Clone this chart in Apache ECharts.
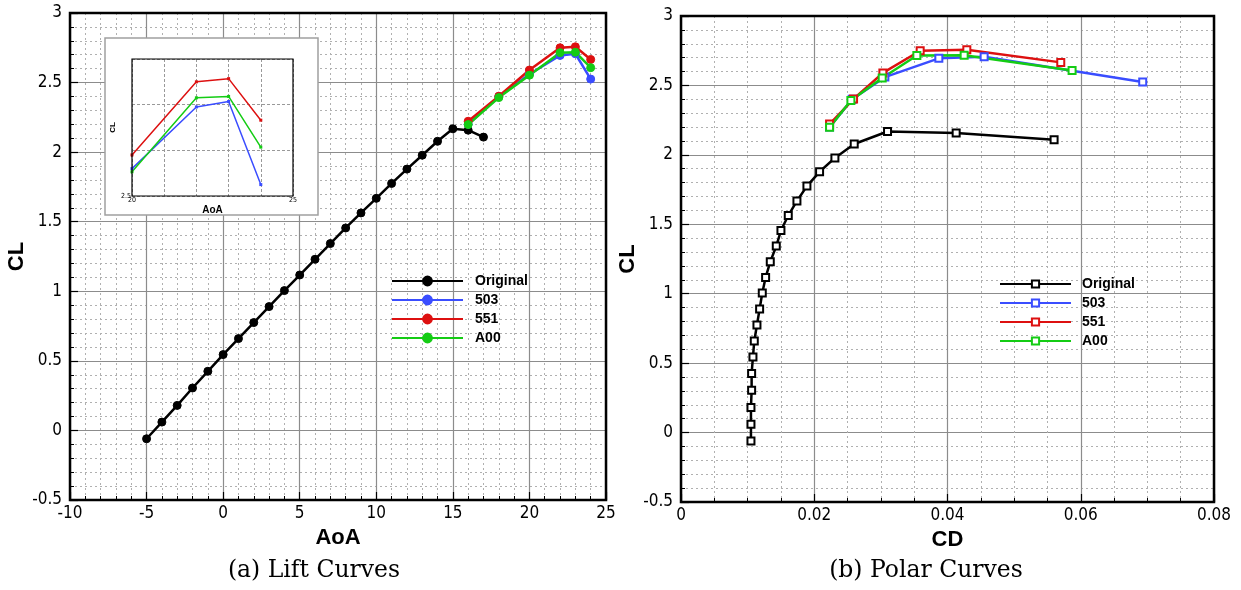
<!DOCTYPE html>
<html>
<head>
<meta charset="utf-8">
<script src="https://cdn.jsdelivr.net/npm/echarts@6/dist/echarts.min.js"></script>
<style>
html,body{margin:0;padding:0;background:#fff;}
#c{width:1241px;height:590px;}
</style>
</head>
<body>
<div id="c"></div>
<script>
// ---- data ----
const aoaOriginal = [-5,-4,-3,-2,-1,0,1,2,3,4,5,6,7,8,9,10,11,12,13,14,15,16,17];
const clOriginal = [-0.06,0.06,0.18,0.305,0.425,0.545,0.66,0.775,0.89,1.005,1.117,1.23,1.343,1.455,1.563,1.668,1.775,1.878,1.978,2.078,2.168,2.158,2.108];
const cdOriginal = [0.0105,0.0105,0.0105,0.0106,0.0106,0.0108,0.0110,0.0114,0.0118,0.0122,0.0127,0.0134,0.0143,0.0150,0.0161,0.0174,0.0189,0.0208,0.0231,0.0260,0.0310,0.0413,0.0560];
const aoaMod = [16,18,20,22,23,24];
const cl503 = [2.20,2.40,2.56,2.695,2.707,2.525];
const cl551 = [2.222,2.402,2.59,2.75,2.757,2.666];
const clA00 = [2.198,2.392,2.553,2.715,2.718,2.607];
const cd503 = [0.0223,0.0257,0.0306,0.0387,0.0455,0.0693];
const cd551 = [0.0223,0.0259,0.0303,0.0359,0.0429,0.0570];
const cdA00 = [0.0223,0.0255,0.0302,0.0354,0.0425,0.0587];
const seriesNames = ['Original','503','551','A00'];
const leftXTicks = {min:-10,max:25,interval:5};
const leftYTicks = {min:-0.5,max:3,interval:0.5};
const rightXTicks = {min:0,max:0.08,interval:0.02};
const insetX = {min:20,max:25,interval:1};
const insetY = {min:2.5,max:2.8,interval:0.1};
const captions = ['(a) Lift Curves','(b) Polar Curves'];

// ---- layout / style ----
const L = {left:70, top:13, width:536, height:487};
const R = {left:681, top:16, width:533, height:486};
const I = {left:132, top:59, width:161, height:137};
const IB = {x:105, y:38, width:213, height:177};
const colors = {Original:'#000000','503':'#3a4dff','551':'#dd1010','A00':'#14cc14'};
const tickFont = "'Liberation Sans Narrow','DejaVu Sans Condensed','Liberation Sans',Arial,sans-serif";
const boldFont = "'Liberation Sans',Arial,sans-serif";
const capFont = "'DejaVu Serif','Liberation Serif',serif";

function zip(a,b){return a.map((v,i)=>[v,b[i]]);}

function mainAxis(gridIndex, t, name, nameGap, isY, minorN){
  return {
    type:'value', gridIndex:gridIndex, min:t.min, max:t.max, interval:t.interval,
    name:name, nameLocation:'middle', nameGap:nameGap,
    nameTextStyle:{fontFamily:boldFont, fontWeight:'bold', fontSize:22, color:'#000'},
    axisLine:{show:true, onZero:false, lineStyle:{color:'#000', width:2}},
    axisTick:{show:true, inside:true, length:8, lineStyle:{color:'#000', width:1.2}},
    minorTick:{show:true, splitNumber:minorN, length:4, lineStyle:{color:'#000', width:1}},
    axisLabel:{show:true, fontFamily:tickFont, fontSize:17, color:'#000', margin:isY?8:5,
      showMinLabel:true, showMaxLabel:true},
    splitLine:{show:true, lineStyle:{color:'#8c8c8c', width:1.2}},
    minorSplitLine:{show:true, lineStyle:{color:'#b0b0b0', width:1, type:[2,3]}}
  };
}

const leftLine = (n, x, y) => ({
  name:n, type:'line', xAxisIndex:0, yAxisIndex:0, data:zip(x,y),
  symbol:'circle', symbolSize:8, z:3,
  lineStyle:{color:colors[n], width:2.5},
  itemStyle:{color:colors[n], borderColor:colors[n], borderWidth:1}
});
const rightLine = (n, x, y) => ({
  name:n+' ', type:'line', xAxisIndex:1, yAxisIndex:1, data:zip(x,y),
  symbol:'emptyRect', symbolSize:7, z:3,
  lineStyle:{color:colors[n], width:2.5},
  itemStyle:{color:colors[n], borderColor:colors[n], borderWidth:1}
});
const insetLine = (n, x, y) => ({
  name:'inset'+n, type:'line', xAxisIndex:2, yAxisIndex:2, data:zip(x,y),
  symbol:'rect', symbolSize:3, z:8, clip:true,
  lineStyle:{color:colors[n], width:1.5},
  itemStyle:{color:colors[n]}
});

const option = {
  animation:false,
  backgroundColor:'#fff',
  grid:[
    {left:L.left, top:L.top, width:L.width, height:L.height, containLabel:false},
    {left:R.left, top:R.top, width:R.width, height:R.height, containLabel:false},
    {left:I.left, top:I.top, width:I.width, height:I.height, containLabel:false, z:6}
  ],
  xAxis:[
    mainAxis(0, leftXTicks, 'AoA', 26, false, 5),
    mainAxis(1, rightXTicks, 'CD', 24, false, 4),
    {type:'value', gridIndex:2, min:insetX.min, max:insetX.max, interval:insetX.interval, z:7,
     name:'AoA', nameLocation:'middle', nameGap:9,
     nameTextStyle:{fontFamily:boldFont, fontWeight:'bold', fontSize:10, color:'#000'},
     axisLine:{show:false}, axisTick:{show:false},
     axisLabel:{fontSize:7, fontFamily:tickFont, color:'#000', margin:1,
       formatter:v => (v===insetX.min||v===insetX.max)?String(v):''},
     splitLine:{show:true, lineStyle:{color:'#999', width:1, type:[3,2]}}}
  ],
  yAxis:[
    mainAxis(0, leftYTicks, 'CL', 42, true, 5),
    mainAxis(1, leftYTicks, 'CL', 40, true, 5),
    {type:'value', gridIndex:2, min:insetY.min, max:insetY.max, interval:insetY.interval, z:7,
     name:'CL', nameLocation:'middle', nameGap:12,
     nameTextStyle:{fontFamily:boldFont, fontWeight:'bold', fontSize:8, color:'#000'},
     axisLine:{show:false}, axisTick:{show:false},
     axisLabel:{fontSize:7, fontFamily:tickFont, color:'#000', margin:1,
       formatter:v => (Math.abs(v-insetY.min)<1e-9)?String(v):''},
     splitLine:{show:true, lineStyle:{color:'#999', width:1, type:[3,2]}}}
  ],
  legend:[
    {orient:'vertical', left:391, top:273, padding:0, itemWidth:71, itemHeight:11, itemGap:3,
     data:seriesNames, selectedMode:false,
     textStyle:{fontFamily:boldFont, fontWeight:'bold', fontSize:14, lineHeight:16, color:'#000', padding:[0,0,0,7]}},
    {orient:'vertical', left:999, top:276, padding:0, itemWidth:71, itemHeight:9, itemGap:3,
     data:seriesNames.map(n=>n+' '), selectedMode:false,
     textStyle:{fontFamily:boldFont, fontWeight:'bold', fontSize:14, lineHeight:16, color:'#000', padding:[0,0,0,6]}}
  ],
  graphic:[
    {type:'rect', z:4, shape:{x:IB.x, y:IB.y, width:IB.width, height:IB.height},
     style:{fill:'#fff', stroke:'#a0a0a0', lineWidth:1.5}},
    {type:'rect', z:9, shape:{x:I.left, y:I.top, width:I.width, height:I.height},
     style:{fill:'none', stroke:'#000', lineWidth:1.2}},
    {type:'rect', z:10, shape:{x:L.left, y:L.top, width:L.width, height:L.height},
     style:{fill:'none', stroke:'#000', lineWidth:2.5}},
    {type:'rect', z:10, shape:{x:R.left, y:R.top, width:R.width, height:R.height},
     style:{fill:'none', stroke:'#000', lineWidth:2.5}},
    {type:'text', z:10, x:314, y:571,
     style:{text:captions[0], fontFamily:capFont, fontSize:23.5, fill:'#000', textAlign:'center', textVerticalAlign:'middle'}},
    {type:'text', z:10, x:926, y:571,
     style:{text:captions[1], fontFamily:capFont, fontSize:23.5, fill:'#000', textAlign:'center', textVerticalAlign:'middle'}}
  ],
  series:[
    leftLine('Original', aoaOriginal, clOriginal),
    leftLine('503', aoaMod, cl503),
    leftLine('551', aoaMod, cl551),
    leftLine('A00', aoaMod, clA00),
    rightLine('Original', cdOriginal, clOriginal),
    rightLine('503', cd503, cl503),
    rightLine('551', cd551, cl551),
    rightLine('A00', cdA00, clA00),
    insetLine('503', aoaMod, cl503),
    insetLine('551', aoaMod, cl551),
    insetLine('A00', aoaMod, clA00)
  ]
};
const chart = echarts.init(document.getElementById('c'), null, {renderer:'canvas'});
chart.setOption(option);
</script>
</body>
</html>
